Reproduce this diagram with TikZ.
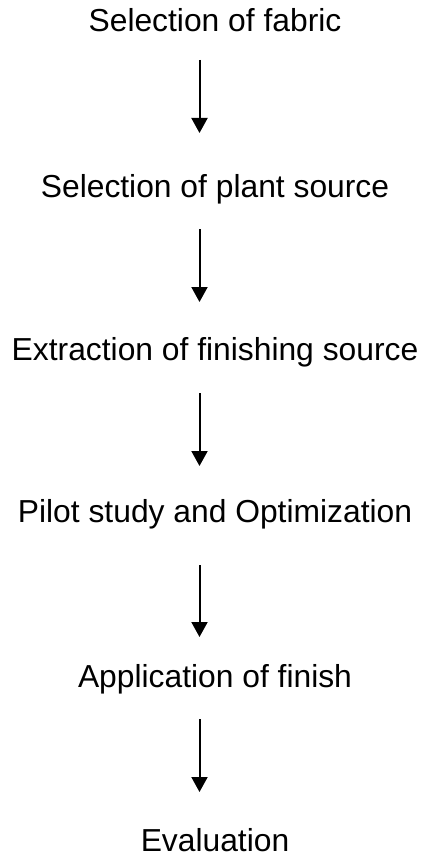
\documentclass[tikz,border=0pt]{standalone}
\usepackage{fontspec}
\setmainfont{Liberation Sans}
\usetikzlibrary{arrows.meta,calc}

\begin{document}
\begin{tikzpicture}[x=1pt,y=1pt]
\tikzset{
	stage node/.style = {anchor = base, inner sep = 0, font = \fontsize{31.8}{38}\selectfont},
	flow arrow/.style = {line width = 2, -{Triangle[width=16,length=15]}}
}
\useasboundingbox(0,0)rectangle(423,-856);
\node(s1)[stage node]at(215,-32){Selection of fabric};
\node(s2)[stage node]at(215,-197){Selection of plant source};
\node(s3)[stage node]at(215,-360){Extraction of finishing source};
\node(s4)[stage node]at(215,-522){Pilot study and Optimization};
\node(s5)[stage node]at(215,-687){Application of finish};
\node(s6)[stage node]at(215,-851){Evaluation};
\foreach \i/\top/\tip in {1/60/133,2/229/302,3/393/466,4/565/637,5/719/792}{
	\coordinate(a\i)at(199.5,-\top);
	\coordinate(b\i)at(199.5,-\tip);
	\draw[flow arrow](a\i)--(b\i);
}
\end{tikzpicture}
\end{document}
